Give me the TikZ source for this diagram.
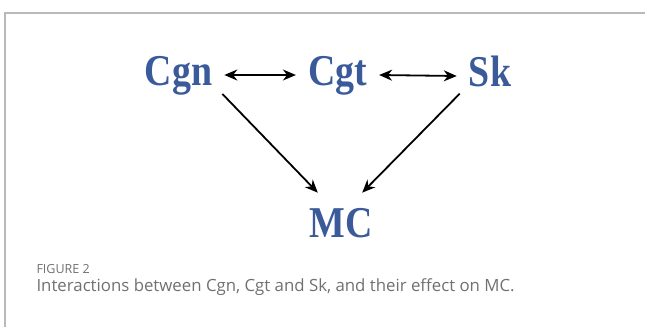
\documentclass[tikz,border=0pt]{standalone}
\usepackage{fontspec}
\usepackage{tikz}
\usetikzlibrary{arrows.meta}
\newfontfamily\lblfont{Liberation Serif}[FakeStretch=0.86]
\newfontfamily\capfont{Open Sans}
\definecolor{lblblue}{RGB}{59,90,154}
\definecolor{capgray}{RGB}{112,112,112}
\definecolor{framegray}{RGB}{185,185,185}

\begin{document}
\begin{tikzpicture}[x=1pt,y=-1pt]
    \useasboundingbox (0,0) rectangle (645,327);
    \draw [framegray,line width=1.2pt] (645,13) -- (5,13) -- (5,327);
    \begin{scope}[lblblue,font=\lblfont\fontsize{44}{44}\selectfont\bfseries,
                  inner xsep=12pt,inner ysep=0pt,anchor=base]
    \node (cgn) at (178.5,85) {Cgn};
    \node (cgt) at (337.5,85) {Cgt};
    \node (sk)  at (490,86)   {Sk};
    \node (mc)  at (341.5,237) {MC};
    \end{scope}
    \begin{scope}[line width=1.8pt,>={Stealth[length=13pt,width=11pt]}]
    \draw [<->] ([yshift=10pt]cgn.base east) -- ([yshift=10pt]cgt.base west);
    \draw [<->] ([yshift=10pt]cgt.base east) -- ([yshift=10pt]sk.base west);
    \draw [->] ([shift={(-2pt,1pt)}]cgn.south east) -- ([shift={(20pt,15pt)}]mc.north west);
    \draw [->] ([shift={(3pt,-7pt)}]sk.south west) -- ([shift={(-23pt,15pt)}]mc.north east);
    \end{scope}
    \node (fig) [anchor=base west,capgray,font=\capfont\fontsize{12.5}{12.5}\selectfont]
        at (33,273) {FIGURE 2};
    \node (cap) [anchor=base west,capgray,font=\capfont\fontsize{16.8}{16.8}\selectfont]
        at (33,291) {Interactions between Cgn, Cgt and Sk, and their effect on MC.};
\end{tikzpicture}
\end{document}
